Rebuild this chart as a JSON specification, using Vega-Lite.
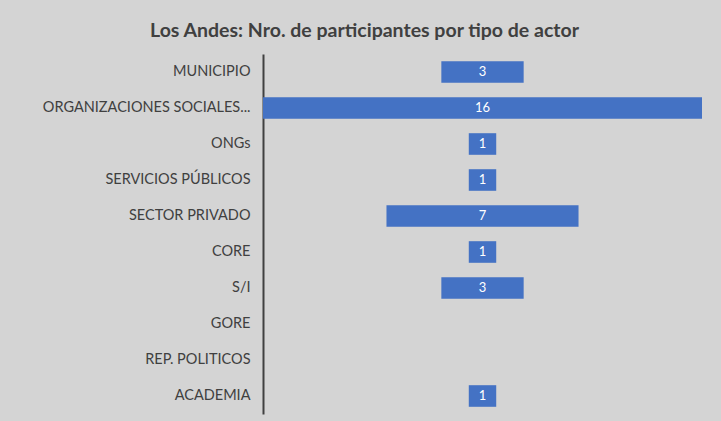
{
  "$schema": "https://vega.github.io/schema/vega-lite/v6.json",
  "autosize": {"type": "none"},
  "width": 439,
  "height": 360,
  "padding": {"left": 263, "top": 54, "right": 19, "bottom": 7},
  "background": "#d4d4d4",
  "title": {
    "text": "Los Andes: Nro. de participantes por tipo de actor",
    "font": "Lato",
    "fontSize": 19.5,
    "fontWeight": "bold",
    "color": "#404040",
    "anchor": "middle",
    "dx": -118,
    "offset": 13
  },
  "config": {
    "view": {"stroke": null},
    "axis": {"grid": false}
  },
  "data": {
    "values": [
      {"actor": "MUNICIPIO", "n": 3},
      {"actor": "ORGANIZACIONES SOCIALES...", "n": 16},
      {"actor": "ONGs", "n": 1},
      {"actor": "SERVICIOS PÚBLICOS", "n": 1},
      {"actor": "SECTOR PRIVADO", "n": 7},
      {"actor": "CORE", "n": 1},
      {"actor": "S/I", "n": 3},
      {"actor": "GORE", "n": 0},
      {"actor": "REP. POLITICOS", "n": 0},
      {"actor": "ACADEMIA", "n": 1}
    ]
  },
  "encoding": {
    "y": {
      "field": "actor",
      "type": "nominal",
      "sort": null,
      "scale": {"paddingInner": 0.4, "paddingOuter": 0.2},
      "axis": {
        "title": null,
        "ticks": false,
        "labelFont": "Lato",
        "labelFontSize": 14.5,
        "labelColor": "#404040",
        "labelPadding": 13,
        "domainColor": "#404040",
        "domainWidth": 2,
        "labelLimit": 300
      }
    }
  },
  "layer": [
    {
      "mark": {"type": "bar", "color": "#4472C4"},
      "encoding": {
        "x": {
          "field": "n",
          "type": "quantitative",
          "stack": "center",
          "scale": {"domain": [0, 16]},
          "axis": null
        }
      }
    },
    {
      "transform": [{"filter": "datum.n > 0"}],
      "mark": {"type": "text", "color": "white", "font": "Lato", "fontSize": 13},
      "encoding": {
        "x": {"datum": 8, "type": "quantitative", "scale": {"domain": [0, 16]}},
        "text": {"field": "n", "type": "quantitative"}
      }
    }
  ]
}
